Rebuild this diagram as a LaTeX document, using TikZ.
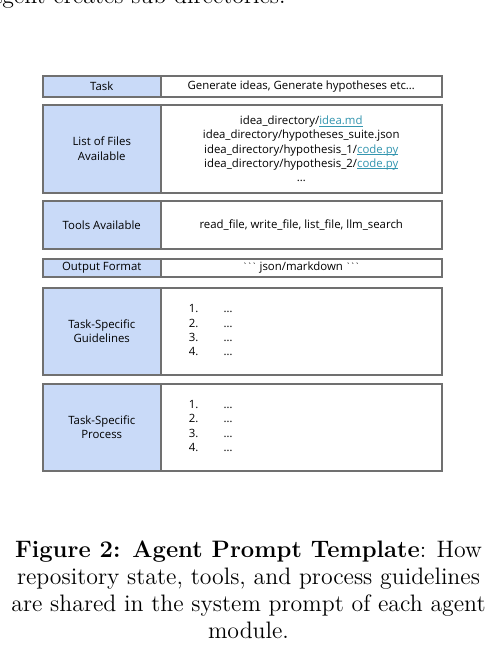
\documentclass[tikz,border=0pt]{standalone}
\usepackage{fontspec}
\newfontfamily\slidefont{Open Sans}
\definecolor{cellblue}{RGB}{201,218,248}
\definecolor{framegray}{RGB}{112,112,112}
\definecolor{linkteal}{RGB}{52,150,176}
\newcommand{\filelink}[1]{\textcolor{linkteal}{\setbox0\hbox{#1}\rlap{\rule[-0.9pt]{\wd0}{0.3pt}}\box0}}
\newcommand{\ticks}{{\fontsize{4.2}{4.2}\selectfont\raisebox{0.4pt}{\textasciigrave\kern-0.15pt\textasciigrave\kern-0.15pt\textasciigrave}}}
\newcommand{\stepsfour}{\begin{tabular}{@{}p{17.5pt}@{}l@{}}1. & …\\ 2. & …\\ 3. & …\\ 4. & …\end{tabular}}

\begin{document}
\begin{tikzpicture}[
        x=0.5pt, y=-0.5pt,
        namecell/.style={draw=framegray, fill=cellblue, line width=0.75pt, anchor=north west,
            minimum width=59pt, inner sep=0pt, align=center,
            font=\slidefont\fontsize{5.7}{7.1}\selectfont},
        valuecell/.style={draw=framegray, fill=white, line width=0.75pt, anchor=north west,
            minimum width=140.5pt, inner sep=0pt, align=center,
            font=\slidefont\fontsize{5.7}{7.1}\selectfont},
        listcell/.style={valuecell, align=left, text width=112.5pt, inner xsep=14pt}
    ]
        \useasboundingbox (0,0) rectangle (497,655);

        % text of the page above the figure
        \node[anchor=base east, inner sep=0pt, font=\fontsize{11.9}{13.65}\selectfont] (prevline) at (286,3.5) {agent creates sub-directories.};

        % prompt template rows
        \node[namecell, minimum height=10.5pt] (task) at (42,75) {Task};
        \node[valuecell, minimum height=10.5pt] (taskval) at (160,75) {Generate ideas, Generate hypotheses etc…};

        \node[namecell, minimum height=44pt] (files) at (42,104) {List of Files\\Available};
        \node[valuecell, minimum height=44pt] (filesval) at (160,104) {idea\_directory/\filelink{idea.md}\\
            idea\_directory/hypotheses\_suite.json\\
            idea\_directory/hypothesis\_1/\filelink{code.py}\\
            idea\_directory/hypothesis\_2/\filelink{code.py}\\
            …};

        \node[namecell, minimum height=24pt] (tools) at (42,200) {Tools Available};
        \node[valuecell, minimum height=24pt] (toolsval) at (160,200) {read\_file, write\_file, list\_file, llm\_search};

        \node[namecell, minimum height=9pt] (output) at (42,258) {Output Format};
        \node[valuecell, minimum height=9pt] (outputval) at (160,258) {\ticks{} json/markdown \ticks};

        \node[namecell, minimum height=43.5pt] (guide) at (42,287) {Task-Specific\\Guidelines};
        \node[listcell, minimum height=43.5pt] (guideval) at (160,287) {\stepsfour};

        \node[namecell, minimum height=43.5pt] (process) at (42,383) {Task-Specific\\Process};
        \node[listcell, minimum height=43.5pt] (processval) at (160,383) {\stepsfour};

        % caption
        \node[anchor=north, inner sep=0pt, align=center, font=\fontsize{11.9}{13.65}\selectfont] (caption) at (248.5,540)
            {\textbf{Figure 2: Agent Prompt Template}: How\\
             repository state, tools, and process guidelines\\
             are shared in the system prompt of each agent\\
             module.};
    \end{tikzpicture}
\end{document}
